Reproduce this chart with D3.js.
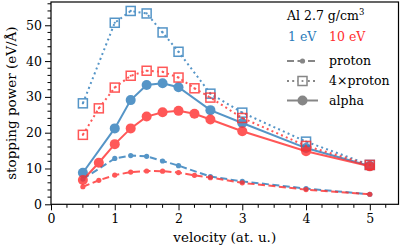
<!DOCTYPE html>
<html>
<head>
<meta charset="utf-8">
<script src="https://cdn.jsdelivr.net/npm/d3@7"></script>
<style>
  body { margin: 0; background: #fff; }
  svg text { font-family: "DejaVu Serif", serif; }
</style>
</head>
<body>
<div id="chart"></div>
<script>
// velocities (at. u.)
const vBlue = [0.5, 1, 1.25, 1.5, 1.75, 2, 2.5, 3, 4, 5];
const vRed = [0.5, 0.75, 1, 1.25, 1.5, 1.75, 2, 2.25, 2.5, 3, 4, 5];

// 1 eV
const protonBlue = [7.05, 12.8, 13.6, 13.4, 12.1, 10.8, 7.75, 6.4, 4.4, 2.8];
const proton4Blue = [28.2, 50.7, 54.0, 53.3, 48.0, 42.6, 30.9, 25.6, 17.5, 11.0];
const alphaBlue = [8.8, 21.2, 29.1, 33.3, 33.8, 32.7, 26.3, 22.7, 15.7, 10.7];

// 10 eV
const protonRed = [4.9, 6.7, 8.15, 9.0, 9.3, 9.25, 8.85, 8.1, 7.45, 6.0, 4.1, 2.8];
const proton4Red = [19.4, 26.8, 32.6, 35.9, 37.3, 37.0, 35.4, 32.4, 29.8, 24.1, 16.3, 11.0];
const alphaRed = [6.8, 11.6, 16.8, 21.2, 24.5, 25.7, 26.1, 25.3, 23.7, 20.4, 14.8, 10.6];

const xTicks = [0, 1, 2, 3, 4, 5];
const yTicks = [0, 10, 20, 30, 40, 50];

const blue = "#2b7bba", red = "#ff2e2e", gray = "#7a7a7a";
const font = "'DejaVu Serif', serif";

let width = 402, height = 252;
let svg = d3.select("#chart").append("svg")
  .attr("width", width).attr("height", height);

let x = d3.scaleLinear().domain([0, 5.45]).range([51, 398.5]);
let y = d3.scaleLinear().domain([0, 56.5]).range([204.3, 2]);

// axes
let xAxis = d3.axisBottom(x).tickValues(xTicks).tickSize(6).tickPadding(4).tickFormat(d3.format("d"));
let yAxis = d3.axisLeft(y).tickValues(yTicks).tickSize(6).tickPadding(3).tickFormat(d3.format("d"));

let gx = svg.append("g").attr("transform", "translate(0," + y(0) + ")").call(xAxis);
let gy = svg.append("g").attr("transform", "translate(" + x(0) + ",0)").call(yAxis);

// minor ticks
gx.selectAll(".minor").data(d3.range(0, 5.45, 0.25).filter(d => d % 1 !== 0))
  .enter().append("line").attr("class", "minor")
  .attr("x1", d => x(d)).attr("x2", d => x(d)).attr("y1", 0).attr("y2", 3.5)
  .attr("stroke", "#000");
gy.selectAll(".minor").data(d3.range(0, 56.5, 2).filter(d => d % 10 !== 0))
  .enter().append("line").attr("class", "minor")
  .attr("y1", d => y(d)).attr("y2", d => y(d)).attr("x1", 0).attr("x2", -3.5)
  .attr("stroke", "#000");

[gx, gy].forEach(g => {
  g.attr("font-family", font);
  g.select(".domain").remove();
  g.selectAll("text").attr("fill", "#000")
    .style("font-size", "12.5px").style("font-family", font);
});

function series(xs, ys, color, kind)
{
  let pts = xs.map((d, i) => [d, ys[i]]);
  let line = d3.line().x(d => x(d[0])).y(d => y(d[1]));
  let g = svg.append("g").attr("opacity", 0.8);
  let path = g.append("path").attr("d", line(pts))
    .attr("fill", "none").attr("stroke", color).attr("stroke-width", 2);
  if (kind == "proton") {
    path.attr("stroke-dasharray", "7,3.5");
    g.selectAll("circle").data(pts).enter().append("circle")
      .attr("cx", d => x(d[0])).attr("cy", d => y(d[1])).attr("r", 2.6)
      .attr("fill", color);
  } else if (kind == "proton4") {
    path.attr("stroke-dasharray", "2,3.2");
    g.selectAll("rect").data(pts).enter().append("rect")
      .attr("x", d => x(d[0]) - 4.5).attr("y", d => y(d[1]) - 4.5)
      .attr("width", 9).attr("height", 9)
      .attr("fill", "none").attr("stroke", color).attr("stroke-width", 1.5);
    g.selectAll("circle").data(pts).enter().append("circle")
      .attr("cx", d => x(d[0])).attr("cy", d => y(d[1])).attr("r", 1.1)
      .attr("fill", color);
  } else {
    g.selectAll("circle").data(pts).enter().append("circle")
      .attr("cx", d => x(d[0])).attr("cy", d => y(d[1])).attr("r", 5)
      .attr("fill", color);
  }
}

series(vBlue, protonBlue, blue, "proton");
series(vBlue, proton4Blue, blue, "proton4");
series(vBlue, alphaBlue, blue, "alpha");
series(vRed, protonRed, red, "proton");
series(vRed, proton4Red, red, "proton4");
series(vRed, alphaRed, red, "alpha");

// frame
svg.append("rect").attr("x", x(0)).attr("y", y(56.5))
  .attr("width", x(5.45) - x(0)).attr("height", y(0) - y(56.5))
  .attr("fill", "none").attr("stroke", "#000").attr("stroke-width", 1.2);

// axis labels
svg.append("text").attr("x", (x(0) + x(5.45)) / 2).attr("y", 242)
  .attr("text-anchor", "middle").style("font-size", "13.5px").text("velocity (at. u.)");
svg.append("text").attr("transform", "translate(16," + (y(0) + y(56.5)) / 2 + ") rotate(-90)")
  .attr("text-anchor", "middle").style("font-size", "13.5px").text("stopping power (eV/Å)");

// legend
let leg = svg.append("g").style("font-size", "12.5px");
let t = leg.append("text").attr("x", 287).attr("y", 20);
t.append("tspan").text("Al 2.7 g/cm");
t.append("tspan").attr("dy", -5).style("font-size", "8.5px").text("3");
leg.append("text").attr("x", 288).attr("y", 41).attr("fill", blue).text("1 eV");
leg.append("text").attr("x", 329).attr("y", 41).attr("fill", red).text("10 eV");

let rows = [["proton", 61], ["4×proton", 81], ["alpha", 100.5]];
rows.forEach(([name, ry], i) => {
  let g = leg.append("g").attr("opacity", 0.9);
  let l = g.append("line").attr("x1", 287).attr("x2", 318).attr("y1", ry).attr("y2", ry)
    .attr("stroke", gray).attr("stroke-width", 2);
  if (i == 0) {
    l.attr("stroke-dasharray", "7,3.5");
    g.append("circle").attr("cx", 302.5).attr("cy", ry).attr("r", 2.6).attr("fill", gray);
  } else if (i == 1) {
    l.attr("stroke-dasharray", "2,3.2");
    g.append("rect").attr("x", 298).attr("y", ry - 4.5).attr("width", 9).attr("height", 9)
      .attr("fill", "#fff").attr("stroke", gray).attr("stroke-width", 1.5);
    g.append("circle").attr("cx", 302.5).attr("cy", ry).attr("r", 1.1).attr("fill", gray);
  } else {
    g.append("circle").attr("cx", 302.5).attr("cy", ry).attr("r", 5).attr("fill", gray);
  }
  leg.append("text").attr("x", 329).attr("y", ry + 4).text(name);
});
</script>
</body>
</html>
